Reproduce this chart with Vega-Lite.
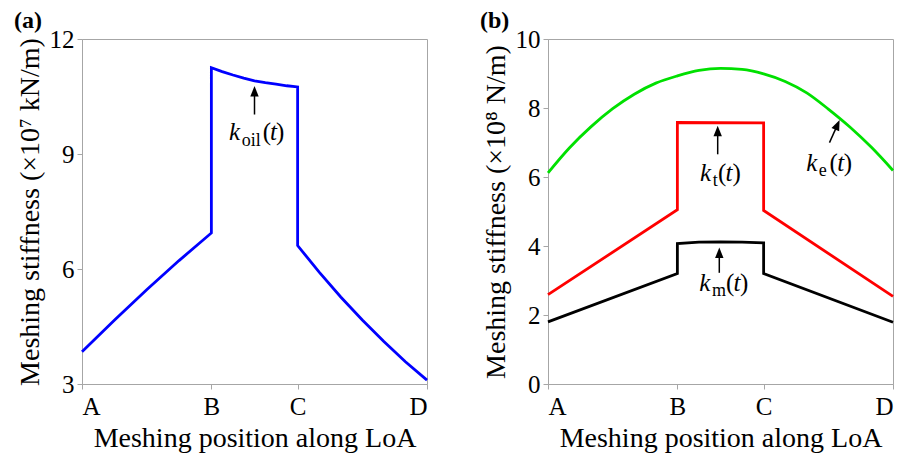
{
  "$schema": "https://vega.github.io/schema/vega-lite/v6.json",
  "background": "white",
  "padding": {"left": 13, "top": 8, "right": 5, "bottom": 0},
  "spacing": 45,
  "config": {
    "font": "Liberation Serif",
    "view": {"stroke": "#a6a6a6", "strokeWidth": 1},
    "axis": {"grid": false, "domainColor": "#a6a6a6", "tickColor": "#a6a6a6", "tickSize": 5, "labelFont": "Liberation Serif", "labelFontSize": 25, "labelColor": "#000000", "titleFont": "Liberation Serif", "titleFontSize": 28, "titleFontWeight": "normal", "titleColor": "#000000"},
    "axisX": {"labelPadding": 5, "titlePadding": 5},
    "axisY": {"labelPadding": 3, "titlePadding": 5},
    "title": {"font": "Liberation Serif", "fontSize": 24, "fontWeight": "bold", "anchor": "start", "color": "#000000"}
  },
  "datasets": {
    "a_curve": [
      {"i": 0, "x": 0, "y": 3.84}, {"i": 1, "x": 0.75, "y": 4.66}, {"i": 2, "x": 1.5, "y": 5.46}, {"i": 3, "x": 2.25, "y": 6.22}, {"i": 4, "x": 3, "y": 6.94},
      {"i": 5, "x": 3, "y": 11.25}, {"i": 6, "x": 3.25, "y": 11.15}, {"i": 7, "x": 3.5, "y": 11.06}, {"i": 8, "x": 3.75, "y": 10.98}, {"i": 9, "x": 4, "y": 10.91},
      {"i": 10, "x": 4.25, "y": 10.86}, {"i": 11, "x": 4.5, "y": 10.82}, {"i": 12, "x": 4.75, "y": 10.78}, {"i": 13, "x": 5, "y": 10.75},
      {"i": 14, "x": 5, "y": 6.61}, {"i": 15, "x": 5.5, "y": 5.92}, {"i": 16, "x": 6, "y": 5.27}, {"i": 17, "x": 6.5, "y": 4.67},
      {"i": 18, "x": 7, "y": 4.11}, {"i": 19, "x": 7.5, "y": 3.58}, {"i": 20, "x": 8, "y": 3.1}
    ],
    "a_arrow": [{"x": 4, "y": 10.03, "x2": 4, "y2": 10.64}],
    "a_head": [{"x": 4, "y": 10.64}],
    "a_text": [
      {"x": 3.409, "y": 9.374, "s": "k", "r": "it"},
      {"x": 3.703, "y": 9.199, "s": "oil", "r": "sub"},
      {"x": 4.19, "y": 9.374, "s": "(", "r": "up"},
      {"x": 4.359, "y": 9.374, "s": "t", "r": "it"},
      {"x": 4.499, "y": 9.374, "s": ")", "r": "up"}
    ],
    "b_curve": [
      {"k": "ke", "i": 0, "x": 0, "y": 6.12}, {"k": "ke", "i": 1, "x": 0.5, "y": 6.85}, {"k": "ke", "i": 2, "x": 1, "y": 7.46}, {"k": "ke", "i": 3, "x": 1.5, "y": 7.98},
      {"k": "ke", "i": 4, "x": 2, "y": 8.4}, {"k": "ke", "i": 5, "x": 2.5, "y": 8.72}, {"k": "ke", "i": 6, "x": 3, "y": 8.93}, {"k": "ke", "i": 7, "x": 3.5, "y": 9.09},
      {"k": "ke", "i": 8, "x": 4, "y": 9.15}, {"k": "ke", "i": 9, "x": 4.5, "y": 9.12}, {"k": "ke", "i": 10, "x": 5, "y": 8.99}, {"k": "ke", "i": 11, "x": 5.5, "y": 8.77},
      {"k": "ke", "i": 12, "x": 6, "y": 8.44}, {"k": "ke", "i": 13, "x": 6.5, "y": 7.97}, {"k": "ke", "i": 14, "x": 7, "y": 7.45}, {"k": "ke", "i": 15, "x": 7.5, "y": 6.86},
      {"k": "ke", "i": 16, "x": 8, "y": 6.19},
      {"k": "kt", "i": 0, "x": 0, "y": 2.59}, {"k": "kt", "i": 1, "x": 3, "y": 5.05}, {"k": "kt", "i": 2, "x": 3, "y": 7.58}, {"k": "kt", "i": 3, "x": 5, "y": 7.57},
      {"k": "kt", "i": 4, "x": 5, "y": 5.03}, {"k": "kt", "i": 5, "x": 8, "y": 2.54},
      {"k": "km", "i": 0, "x": 0, "y": 1.8}, {"k": "km", "i": 1, "x": 3, "y": 3.2}, {"k": "km", "i": 2, "x": 3, "y": 4.07}, {"k": "km", "i": 3, "x": 3.5, "y": 4.11},
      {"k": "km", "i": 4, "x": 4, "y": 4.12}, {"k": "km", "i": 5, "x": 4.5, "y": 4.11}, {"k": "km", "i": 6, "x": 5, "y": 4.09}, {"k": "km", "i": 7, "x": 5, "y": 3.2},
      {"k": "km", "i": 8, "x": 8, "y": 1.79}
    ],
    "b_arrow": [
      {"x": 3.935, "y": 6.658, "x2": 3.935, "y2": 7.334},
      {"x": 3.972, "y": 3.223, "x2": 3.972, "y2": 3.804},
      {"x": 6.527, "y": 6.998, "x2": 6.712, "y2": 7.512}
    ],
    "b_head_v": [{"x": 3.935, "y": 7.334}, {"x": 3.972, "y": 3.804}],
    "b_head_s": [{"x": 6.712, "y": 7.512}],
    "b_text": [
      {"x": 3.524, "y": 5.883, "s": "k", "r": "it"},
      {"x": 3.819, "y": 5.737, "s": "t", "r": "sub"},
      {"x": 3.942, "y": 5.883, "s": "(", "r": "up"},
      {"x": 4.116, "y": 5.883, "s": "t", "r": "it"},
      {"x": 4.279, "y": 5.883, "s": ")", "r": "up"},
      {"x": 3.508, "y": 2.689, "s": "k", "r": "it"},
      {"x": 3.803, "y": 2.564, "s": "m", "r": "sub"},
      {"x": 4.128, "y": 2.689, "s": "(", "r": "up"},
      {"x": 4.302, "y": 2.689, "s": "t", "r": "it"},
      {"x": 4.453, "y": 2.689, "s": ")", "r": "up"},
      {"x": 5.986, "y": 6.173, "s": "k", "r": "it"},
      {"x": 6.28, "y": 6.028, "s": "e", "r": "sub"},
      {"x": 6.53, "y": 6.173, "s": "(", "r": "up"},
      {"x": 6.709, "y": 6.173, "s": "t", "r": "it"},
      {"x": 6.86, "y": 6.173, "s": ")", "r": "up"}
    ]
  },
  "hconcat": [
    {
      "width": 345,
      "height": 345,
      "title": {"text": "(a)", "frame": "bounds", "dx": -2, "offset": -6},
      "layer": [
        {
          "data": {"name": "a_curve"},
          "mark": {"type": "line", "color": "#0000ff", "strokeWidth": 2.8},
          "encoding": {
            "x": {"field": "x", "type": "quantitative", "scale": {"domain": [0, 8]}, "title": "Meshing position along LoA",
                  "axis": {"values": [0, 3, 5, 8], "labelExpr": "datum.value == 0 ? 'A' : datum.value == 3 ? 'B' : datum.value == 5 ? 'C' : 'D'"}},
            "y": {"field": "y", "type": "quantitative", "scale": {"domain": [3, 12]}, "title": "Meshing stiffness (×10⁷ kN/m)",
                  "axis": {"values": [3, 6, 9, 12]}},
            "order": {"field": "i", "type": "quantitative"}
          }
        },
        {
          "data": {"name": "a_arrow"},
          "mark": {"type": "rule", "color": "#000000", "strokeWidth": 1.5},
          "encoding": {
            "x": {"field": "x", "type": "quantitative", "title": "Meshing position along LoA"},
            "y": {"field": "y", "type": "quantitative", "title": "Meshing stiffness (×10⁷ kN/m)"},
            "x2": {"field": "x2"},
            "y2": {"field": "y2"}
          }
        },
        {
          "data": {"name": "a_head"},
          "mark": {"type": "point", "shape": "M0,-1L-0.8,1L0.8,1Z", "size": 110, "filled": true, "color": "#000000", "opacity": 1, "strokeWidth": 0},
          "encoding": {
            "x": {"field": "x", "type": "quantitative", "title": "Meshing position along LoA"},
            "y": {"field": "y", "type": "quantitative", "title": "Meshing stiffness (×10⁷ kN/m)"}
          }
        },
        {
          "data": {"name": "a_text"},
          "transform": [{"filter": "datum.r == 'it'"}],
          "mark": {"type": "text", "align": "left", "baseline": "alphabetic", "font": "Liberation Serif", "fontSize": 25, "fontStyle": "italic", "color": "#000000"},
          "encoding": {
            "x": {"field": "x", "type": "quantitative", "title": "Meshing position along LoA"},
            "y": {"field": "y", "type": "quantitative", "title": "Meshing stiffness (×10⁷ kN/m)"},
            "text": {"field": "s"}
          }
        },
        {
          "data": {"name": "a_text"},
          "transform": [{"filter": "datum.r == 'up'"}],
          "mark": {"type": "text", "align": "left", "baseline": "alphabetic", "font": "Liberation Serif", "fontSize": 25, "color": "#000000"},
          "encoding": {
            "x": {"field": "x", "type": "quantitative", "title": "Meshing position along LoA"},
            "y": {"field": "y", "type": "quantitative", "title": "Meshing stiffness (×10⁷ kN/m)"},
            "text": {"field": "s"}
          }
        },
        {
          "data": {"name": "a_text"},
          "transform": [{"filter": "datum.r == 'sub'"}],
          "mark": {"type": "text", "align": "left", "baseline": "alphabetic", "font": "Liberation Serif", "fontSize": 18, "color": "#000000"},
          "encoding": {
            "x": {"field": "x", "type": "quantitative", "title": "Meshing position along LoA"},
            "y": {"field": "y", "type": "quantitative", "title": "Meshing stiffness (×10⁷ kN/m)"},
            "text": {"field": "s"}
          }
        }
      ]
    },
    {
      "width": 345,
      "height": 345,
      "title": {"text": "(b)", "frame": "bounds", "dx": -2, "offset": -6},
      "layer": [
        {
          "data": {"name": "b_curve"},
          "transform": [{"filter": "datum.k == 'ke'"}],
          "mark": {"type": "line", "strokeWidth": 2.8, "interpolate": "monotone"},
          "encoding": {
            "x": {"field": "x", "type": "quantitative", "scale": {"domain": [0, 8]}, "title": "Meshing position along LoA",
                  "axis": {"values": [0, 3, 5, 8], "labelExpr": "datum.value == 0 ? 'A' : datum.value == 3 ? 'B' : datum.value == 5 ? 'C' : 'D'"}},
            "y": {"field": "y", "type": "quantitative", "scale": {"domain": [0, 10]}, "title": "Meshing stiffness (×10⁸ N/m)",
                  "axis": {"values": [0, 2, 4, 6, 8, 10]}},
            "color": {"field": "k", "type": "nominal", "scale": {"domain": ["ke", "kt", "km"], "range": ["#00e000", "#ff0000", "#000000"]}, "legend": null},
            "order": {"field": "i", "type": "quantitative"}
          }
        },
        {
          "data": {"name": "b_curve"},
          "transform": [{"filter": "datum.k != 'ke'"}],
          "mark": {"type": "line", "strokeWidth": 2.8},
          "encoding": {
            "x": {"field": "x", "type": "quantitative", "title": "Meshing position along LoA"},
            "y": {"field": "y", "type": "quantitative", "title": "Meshing stiffness (×10⁸ N/m)"},
            "color": {"field": "k", "type": "nominal", "legend": null},
            "order": {"field": "i", "type": "quantitative"}
          }
        },
        {
          "data": {"name": "b_arrow"},
          "mark": {"type": "rule", "color": "#000000", "strokeWidth": 1.5},
          "encoding": {
            "x": {"field": "x", "type": "quantitative", "title": "Meshing position along LoA"},
            "y": {"field": "y", "type": "quantitative", "title": "Meshing stiffness (×10⁸ N/m)"},
            "x2": {"field": "x2"},
            "y2": {"field": "y2"}
          }
        },
        {
          "data": {"name": "b_head_v"},
          "mark": {"type": "point", "shape": "M0,-1L-0.8,1L0.8,1Z", "size": 110, "filled": true, "color": "#000000", "opacity": 1, "strokeWidth": 0},
          "encoding": {
            "x": {"field": "x", "type": "quantitative", "title": "Meshing position along LoA"},
            "y": {"field": "y", "type": "quantitative", "title": "Meshing stiffness (×10⁸ N/m)"}
          }
        },
        {
          "data": {"name": "b_head_s"},
          "mark": {"type": "point", "shape": "M0,-1L-0.8,1L0.8,1Z", "size": 110, "angle": 24, "filled": true, "color": "#000000", "opacity": 1, "strokeWidth": 0},
          "encoding": {
            "x": {"field": "x", "type": "quantitative", "title": "Meshing position along LoA"},
            "y": {"field": "y", "type": "quantitative", "title": "Meshing stiffness (×10⁸ N/m)"}
          }
        },
        {
          "data": {"name": "b_text"},
          "transform": [{"filter": "datum.r == 'it'"}],
          "mark": {"type": "text", "align": "left", "baseline": "alphabetic", "font": "Liberation Serif", "fontSize": 25, "fontStyle": "italic", "color": "#000000"},
          "encoding": {
            "x": {"field": "x", "type": "quantitative", "title": "Meshing position along LoA"},
            "y": {"field": "y", "type": "quantitative", "title": "Meshing stiffness (×10⁸ N/m)"},
            "text": {"field": "s"}
          }
        },
        {
          "data": {"name": "b_text"},
          "transform": [{"filter": "datum.r == 'up'"}],
          "mark": {"type": "text", "align": "left", "baseline": "alphabetic", "font": "Liberation Serif", "fontSize": 25, "color": "#000000"},
          "encoding": {
            "x": {"field": "x", "type": "quantitative", "title": "Meshing position along LoA"},
            "y": {"field": "y", "type": "quantitative", "title": "Meshing stiffness (×10⁸ N/m)"},
            "text": {"field": "s"}
          }
        },
        {
          "data": {"name": "b_text"},
          "transform": [{"filter": "datum.r == 'sub'"}],
          "mark": {"type": "text", "align": "left", "baseline": "alphabetic", "font": "Liberation Serif", "fontSize": 18, "color": "#000000"},
          "encoding": {
            "x": {"field": "x", "type": "quantitative", "title": "Meshing position along LoA"},
            "y": {"field": "y", "type": "quantitative", "title": "Meshing stiffness (×10⁸ N/m)"},
            "text": {"field": "s"}
          }
        }
      ]
    }
  ]
}
